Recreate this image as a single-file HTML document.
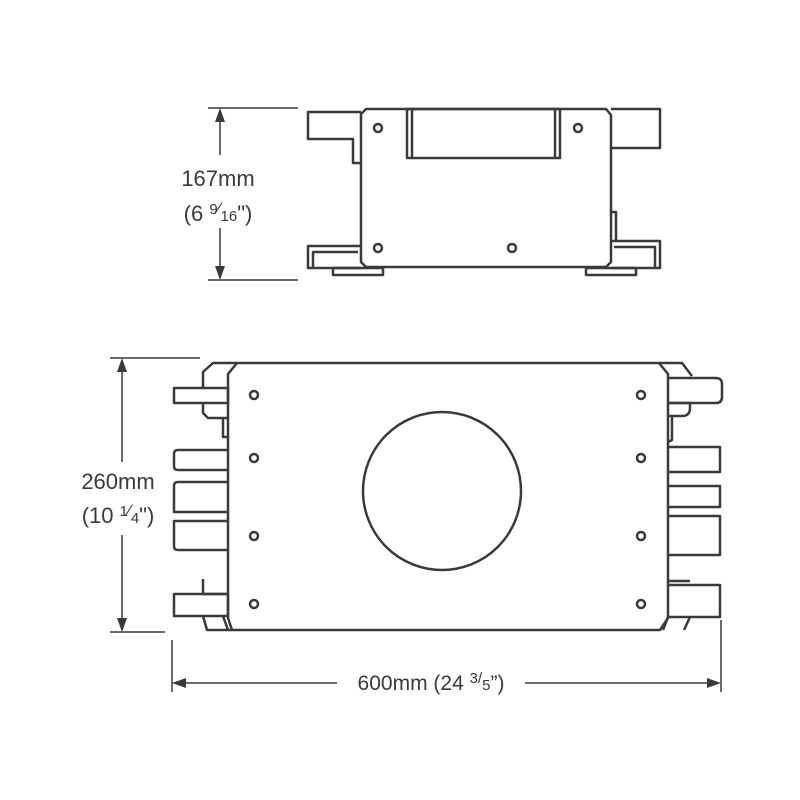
<!DOCTYPE html>
<html><head><style>
html,body{margin:0;padding:0;background:#fff;}
svg{display:block;}
text{font-family:"Liberation Sans",Arial,sans-serif;fill:#3a3a3a;}
</style></head><body>
<svg width="800" height="800" viewBox="0 0 800 800" xmlns="http://www.w3.org/2000/svg">
<g fill="none" stroke="#3a3a3a" stroke-width="2.5" stroke-linejoin="round">
<!-- TOP VIEW -->
<path d="M366 109 L606 109 L611 115 L611 262 L606 267 L366 267 L361 262 L361 114 Z"/>
<rect x="407" y="109" width="153" height="49"/>
<line x1="412" y1="109" x2="412" y2="158"/>
<line x1="555" y1="109" x2="555" y2="158"/>
<path d="M361 112 L308 112 L308 139 L353 139 L353 163 L361 163"/>
<path d="M611 109 L660 109 L660 148 L611 148"/>
<path d="M361 246 L308 246 L308 268 L361 268"/>
<path d="M358 252 L313 252 L313 268"/>
<path d="M611 241 L660 241 L660 268 L611 268"/>
<path d="M614 247 L655 247 L655 268"/>
<path d="M611 212 L616 212 L616 240"/>
<rect x="333" y="268" width="50" height="7"/>
<rect x="586" y="268" width="50" height="7"/>
<circle cx="378" cy="128" r="4"/>
<circle cx="578" cy="128" r="4"/>
<circle cx="378" cy="248" r="4"/>
<circle cx="512" cy="248" r="4"/>

<!-- BOTTOM VIEW -->
<path d="M203 388 L203 372 L213 363 L682 363 L692 376"/>
<path d="M237 363 L228 374 L228 618 L232 630 L660 630 L668 618 L668 374 L659 363"/>
<rect x="174" y="388" width="54" height="15"/>
<path d="M203 403 L203 413 L208 418 L228 418"/>
<path d="M223 418 L223 437 L228 437"/>
<path d="M228 450 L178 450 Q174 450 174 454 L174 466 Q174 470 178 470 L228 470"/>
<path d="M228 482 L178 482 Q174 482 174 486 L174 512 L228 512"/>
<path d="M228 521 L174 521 L174 546 Q174 550 178 550 L228 550"/>
<path d="M203 579 L203 594 L228 594"/>
<rect x="174" y="594" width="54" height="22"/>
<path d="M203 616 L207 630 L232 630 M223 616 L228 630"/>
<!-- right -->
<path d="M668 378 L716 378 Q722 378 722 384 L722 397 Q722 403 716 403 L668 403"/>
<path d="M668 403 L690 403 L690 408 Q690 416 682 416 L668 416"/>
<path d="M672 416 L672 440 L668 442"/>
<path d="M668 447 L720 447 L720 472 L668 472"/>
<path d="M668 486 L720 486 L720 507 L668 507"/>
<path d="M668 516 L720 516 L720 555 L668 555"/>
<path d="M668 581 L690 581"/>
<path d="M668 585 L720 585 L720 617 L668 617"/>
<path d="M668 617 L663 630 M690 617 L684 630"/>
<circle cx="442" cy="491" r="79"/>
<circle cx="254" cy="395" r="4"/><circle cx="254" cy="458" r="4"/>
<circle cx="254" cy="536" r="4"/><circle cx="254" cy="604" r="4"/>
<circle cx="641" cy="395" r="4"/><circle cx="641" cy="458" r="4"/>
<circle cx="641" cy="536" r="4"/><circle cx="641" cy="604" r="4"/>
</g>

<!-- DIMENSIONS -->
<g stroke="#3a3a3a" stroke-width="1.5" fill="none">
<line x1="208" y1="108" x2="298" y2="108"/>
<line x1="208" y1="280" x2="298" y2="280"/>
<line x1="220" y1="110" x2="220" y2="155"/>
<line x1="220" y1="228" x2="220" y2="278"/>
<line x1="110" y1="358" x2="200" y2="358"/>
<line x1="110" y1="632" x2="165" y2="632"/>
<line x1="122" y1="360" x2="122" y2="462"/>
<line x1="122" y1="535" x2="122" y2="630"/>
<line x1="172" y1="640" x2="172" y2="692"/>
<line x1="721" y1="620" x2="721" y2="692"/>
<line x1="174" y1="683" x2="337" y2="683"/>
<line x1="525" y1="683" x2="719" y2="683"/>
</g>
<g fill="#3a3a3a">
<path d="M220 108 L215 122 L225 122 Z"/>
<path d="M220 280 L215 266 L225 266 Z"/>
<path d="M122 358 L117 372 L127 372 Z"/>
<path d="M122 632 L117 618 L127 618 Z"/>
<path d="M172 683 L186 678 L186 688 Z"/>
<path d="M721 683 L707 678 L707 688 Z"/>
</g>
<text x="218" y="186" font-size="22" text-anchor="middle">167mm</text>
<text x="218" y="221" font-size="22" text-anchor="middle">(6 <tspan font-size="15" dy="-7">9</tspan><tspan font-size="17" dy="0">⁄</tspan><tspan font-size="15" dy="7">16</tspan>")</text>
<text x="118" y="489" font-size="22" text-anchor="middle">260mm</text>
<text x="118" y="523" font-size="22" text-anchor="middle">(10 <tspan font-size="15" dy="-7">1</tspan><tspan font-size="17">⁄</tspan><tspan font-size="15" dy="7">4</tspan>")</text>
<text x="431" y="690" font-size="21" text-anchor="middle">600mm (24 <tspan font-size="15" dy="-7">3</tspan><tspan font-size="15">/</tspan><tspan font-size="15" dy="7">5</tspan>”)</text>
</svg>
</body></html>
